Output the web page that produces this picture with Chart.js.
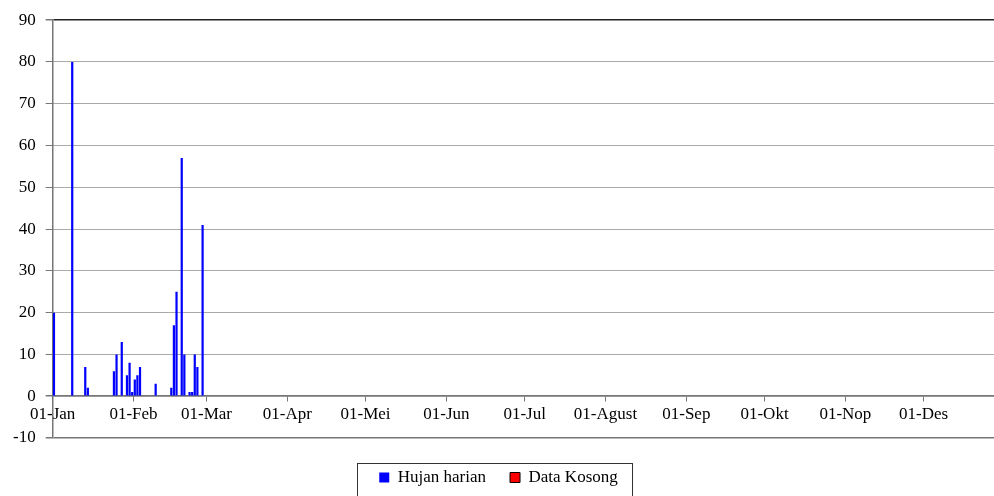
<!DOCTYPE html>
<html>
	<head>
		<title>Hujan harian</title>
		<meta charset="UTF-8">
		<script src="https://cdn.jsdelivr.net/npm/chart.js@4.4.1/dist/chart.umd.min.js"></script>
		<style>
			body { margin: 0; background: #fff; overflow: hidden; }
		</style>
	</head>
	<body>
		<canvas id="chart" width="994" height="496"></canvas>

		<script>
			// day of year (1 = 01-Jan) and daily rainfall
			var rainDays = [1, 8, 13, 14, 24, 25, 27, 29, 30, 31, 32, 33, 34, 40, 46, 47, 48, 50, 51, 53, 54, 55, 56, 58]
			var rainMm   = [20, 80, 7, 2, 6, 10, 13, 5, 8, 1, 4, 5, 7, 3, 2, 17, 25, 57, 10, 1, 1, 10, 7, 41]

			// no empty-data days in the picture
			var emptyDays = []
			var emptyMm = []

			var monthStarts = [0, 31, 59, 90, 120, 151, 181, 212, 243, 273, 304, 334]
			var monthLabels = ['01-Jan', '01-Feb', '01-Mar', '01-Apr', '01-Mei', '01-Jun',
				'01-Jul', '01-Agust', '01-Sep', '01-Okt', '01-Nop', '01-Des']

			var yMin = -10
			var yMax = 90
			var yStep = 10
			var xMax = 361

			var serif = "'Liberation Serif', 'Times New Roman', serif"
			var fontSize = 17

			function toPoints(days, vals){
				return days.map(function(d, i){ return {x: d - 0.5, y: vals[i]} })
			}

			// frame round the legend, open at the bottom like the cropped original
			var legendFrame = {
				id: 'legendFrame',
				afterDraw: function(chart){
					let boxes = chart.legend.legendHitBoxes
					if(!boxes || !boxes.length) return
					let left = Math.min.apply(null, boxes.map(b => b.left)) - 22
					let right = Math.max.apply(null, boxes.map(b => b.left + b.width)) + 14
					let mid = boxes[0].top + boxes[0].height / 2
					let ctx = chart.ctx
					ctx.save()
					ctx.strokeStyle = '#333'
					ctx.lineWidth = 1
					ctx.strokeRect(Math.round(left) + 0.5, Math.round(mid - 15) + 0.5, Math.round(right - left), 60)
					ctx.restore()
				}
			}

			let ctx = document.getElementById('chart').getContext('2d')
			let rainChart = new Chart(ctx, {
				type: 'bar',
				data: {
					datasets: [{
						label: 'Hujan harian',
						data: toPoints(rainDays, rainMm),
						backgroundColor: '#0000FF',
						borderWidth: 0,
						grouped: false,
						categoryPercentage: 1,
						barPercentage: 0.85
					}, {
						label: 'Data Kosong',
						data: toPoints(emptyDays, emptyMm),
						backgroundColor: '#FF0000',
						borderColor: '#000000',
						borderWidth: 1,
						grouped: false,
						categoryPercentage: 1,
						barPercentage: 0.85
					}]
				},
				plugins: [legendFrame],
				options: {
					responsive: false,
					animation: false,
					layout: { padding: { top: 10, left: 3, right: 0, bottom: 0 } },
					plugins: {
						tooltip: { enabled: false },
						legend: {
							position: 'bottom',
							// empty title only adds room above the legend row
							title: { display: true, text: '', font: { size: 5 }, padding: { top: 0, bottom: 1 } },
							labels: {
								boxWidth: 10,
								boxHeight: 10,
								padding: 24,
								color: '#000',
								font: { family: serif, size: fontSize }
							}
						}
					},
					scales: {
						x: {
							type: 'linear',
							position: { y: 0 },
							offset: false,
							min: 0,
							max: xMax,
							afterBuildTicks: function(axis){
								axis.ticks = monthStarts.map(v => ({value: v}))
							},
							ticks: {
								autoSkip: false,
								maxRotation: 0,
								padding: 3,
								color: '#000',
								font: { family: serif, size: fontSize },
								callback: function(value){
									let i = monthStarts.indexOf(value)
									return i >= 0 ? monthLabels[i] : ''
								}
							},
							grid: {
								offset: false,
								drawOnChartArea: false,
								drawTicks: true,
								tickLength: 5,
								tickColor: '#777'
							},
							border: { color: '#777', width: 1.5 }
						},
						y: {
							min: yMin,
							max: yMax,
							ticks: {
								stepSize: yStep,
								padding: 10,
								color: '#000',
								font: { family: serif, size: fontSize }
							},
							grid: {
								tickLength: 7,
								tickColor: '#777',
								color: function(c){
									if(c.tick && c.tick.value === yMax) return '#222'
									if(c.tick && (c.tick.value === 0 || c.tick.value === yMin)) return '#777'
									return '#555'
								},
								lineWidth: function(c){
									if(c.tick && (c.tick.value === yMax || c.tick.value === yMin || c.tick.value === 0)) return 1.5
									return 1
								}
							},
							border: {
								color: '#777',
								width: 1.5,
								dash: function(c){
									if(c.tick && c.tick.value > 0 && c.tick.value < yMax) return [1, 1]
									return []
								}
							}
						}
					}
				}
			})
		</script>
	</body>
</html>
